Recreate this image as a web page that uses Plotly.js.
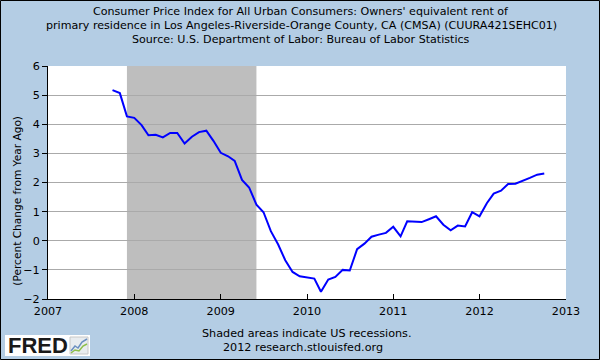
<!DOCTYPE html>
<html>
<head>
<meta charset="utf-8">
<script src="https://cdn.plot.ly/plotly-3.0.1.min.js"></script>
<style>
html,body{margin:0;padding:0;background:#B4CDE4;}
#chart{width:600px;height:360px;}
</style>
</head>
<body>
<div id="chart"></div>
<script>
// ---- data ----
const dates = [
  "2007-10-01","2007-11-01","2007-12-01",
  "2008-01-01","2008-02-01","2008-03-01","2008-04-01","2008-05-01","2008-06-01",
  "2008-07-01","2008-08-01","2008-09-01","2008-10-01","2008-11-01","2008-12-01",
  "2009-01-01","2009-02-01","2009-03-01","2009-04-01","2009-05-01","2009-06-01",
  "2009-07-01","2009-08-01","2009-09-01","2009-10-01","2009-11-01","2009-12-01",
  "2010-01-01","2010-02-01","2010-03-01","2010-04-01","2010-05-01","2010-06-01",
  "2010-07-01","2010-08-01","2010-09-01","2010-10-01","2010-11-01","2010-12-01",
  "2011-01-01","2011-02-01","2011-03-01","2011-04-01","2011-05-01","2011-06-01",
  "2011-07-01","2011-08-01","2011-09-01","2011-10-01","2011-11-01","2011-12-01",
  "2012-01-01","2012-02-01","2012-03-01","2012-04-01","2012-05-01","2012-06-01",
  "2012-07-01","2012-08-01","2012-09-01","2012-10-01"
];
const pctChange = [
  5.17, 5.07, 4.27,
  4.22, 3.97, 3.62, 3.64, 3.55, 3.70,
  3.70, 3.34, 3.57, 3.73, 3.78, 3.43,
  3.02, 2.90, 2.74, 2.09, 1.83, 1.24,
  0.98, 0.33, -0.13, -0.67, -1.07, -1.22,
  -1.27, -1.30, -1.75, -1.33, -1.24, -1.00,
  -1.02, -0.29, -0.10, 0.14, 0.21, 0.27,
  0.48, 0.15, 0.67, 0.66, 0.64, 0.74,
  0.84, 0.55, 0.36, 0.52, 0.49, 0.98,
  0.84, 1.29, 1.62, 1.72, 1.95, 1.96,
  2.05, 2.16, 2.27, 2.31
];
const recessionStart = "2007-12-01";
const recessionEnd = "2009-06-01";
const xRange = ["2007-01-01", "2013-01-01"];
const yRange = [-2, 6];
const titleLines = [
  "Consumer Price Index for All Urban Consumers: Owners' equivalent rent of",
  "primary residence in Los Angeles-Riverside-Orange County, CA (CMSA) (CUURA421SEHC01)",
  "Source: U.S. Department of Labor: Bureau of Labor Statistics"
];
const yTitle = "(Percent Change from Year Ago)";
const footLines = ["Shaded areas indicate US recessions.", "2012 research.stlouisfed.org"];

// ---- layout geometry ----
const W = 600, H = 360, L = 48, R = 34, T = 66, B = 61;
const pw = W - L - R, ph = H - T - B;
const px = x => (x - L) / pw;
const py = y => 1 - (y - T) / ph;
const FONT = "DejaVu Sans, Verdana, sans-serif";
const TITLE_FS = 11.1, TICK_FS = 11.2, FOOT_FS = 11.2, YT_FS = 10.6;
const titleY = [11.7, 25.4, 39.2];

const trace = {
  x: dates, y: pctChange, type: "scatter", mode: "lines",
  line: {color: "#0000FF", width: 2}, hoverinfo: "skip"
};

const shapes = [
  {type: "rect", xref: "x", yref: "paper", x0: recessionStart, x1: recessionEnd, y0: 0, y1: 1,
   fillcolor: "#BEBEBE", line: {width: 0}, layer: "between"},
  {type: "rect", xref: "paper", yref: "paper", x0: px(0.5), x1: px(599.5), y0: py(359.5), y1: py(0.5),
   line: {color: "#000000", width: 1}, fillcolor: "rgba(0,0,0,0)", layer: "above"},
  {type: "rect", xref: "paper", yref: "paper", x0: px(5), x1: px(90), y0: py(356), y1: py(335),
   fillcolor: "#FFFFFF", line: {width: 0}, layer: "above"},
  {type: "rect", xref: "paper", yref: "paper", x0: px(70), x1: px(88), y0: py(354), y1: py(337),
   fillcolor: "#E8ECEF", line: {color: "#C8C8C8", width: 1}, layer: "above"},
  {type: "path", xref: "paper", yref: "paper", layer: "above",
   path: `M ${px(71)} ${py(351)} L ${px(75)} ${py(346)} L ${px(78)} ${py(348)} L ${px(82)} ${py(342)} L ${px(87)} ${py(339)}`,
   line: {color: "#6A8FC0", width: 1.5}},
  {type: "path", xref: "paper", yref: "paper", layer: "above",
   path: `M ${px(71)} ${py(353)} L ${px(75)} ${py(350)} L ${px(79)} ${py(351)} L ${px(83)} ${py(346)} L ${px(87)} ${py(344)}`,
   line: {color: "#8DBF4A", width: 1.5}}
];

const annotations = titleLines.map((t, i) => ({
  xref: "paper", yref: "paper", x: px(301), y: py(titleY[i]), xanchor: "center", yanchor: "middle",
  text: t, showarrow: false, font: {family: FONT, size: TITLE_FS, color: "#000"}
})).concat([
  {xref: "paper", yref: "paper", x: px(16.7), y: py(201), xanchor: "center", yanchor: "middle",
   text: yTitle, textangle: -90, showarrow: false, font: {family: FONT, size: YT_FS, color: "#000"}},
  {xref: "paper", yref: "paper", x: px(306), y: py(333.3), xanchor: "center", yanchor: "middle",
   text: footLines[0], showarrow: false, font: {family: FONT, size: FOOT_FS, color: "#000"}},
  {xref: "paper", yref: "paper", x: px(303), y: py(347.3), xanchor: "center", yanchor: "middle",
   text: footLines[1], showarrow: false, font: {family: FONT, size: FOOT_FS, color: "#000"}},
  {xref: "paper", yref: "paper", x: px(6), y: py(345.5), xanchor: "left", yanchor: "middle",
   text: "<b>FRED</b>", showarrow: false,
   font: {family: "Liberation Sans, Arial, sans-serif", size: 22, color: "#1A1A1A"}}
]);

const layout = {
  width: W, height: H,
  margin: {l: L, r: R, t: T, b: B, pad: 0},
  paper_bgcolor: "#B4CDE4",
  plot_bgcolor: "#FFFFFF",
  showlegend: false,
  font: {family: FONT, size: TICK_FS, color: "#000"},
  xaxis: {
    type: "date", range: xRange, tick0: "2007-01-01", dtick: "M12", tickformat: "%Y",
    ticks: "inside", ticklen: 5, tickcolor: "#000", tickwidth: 1, ticklabelstandoff: 2,
    showgrid: false, zeroline: false,
    showline: true, linecolor: "#000", linewidth: 1,
    tickfont: {family: FONT, size: TICK_FS, color: "#000"}, fixedrange: true
  },
  yaxis: {
    range: yRange, dtick: 1, tick0: 0,
    ticks: "outside", ticklen: 5, tickcolor: "#000", tickwidth: 1,
    showgrid: true, gridcolor: "#AAAAAA", gridwidth: 1, zeroline: false,
    showline: true, linecolor: "#000", linewidth: 1,
    tickfont: {family: FONT, size: TICK_FS, color: "#000"}, fixedrange: true
  },
  shapes: shapes,
  annotations: annotations
};

Plotly.newPlot("chart", [trace], layout, {displayModeBar: false, staticPlot: true});
</script>
</body>
</html>
